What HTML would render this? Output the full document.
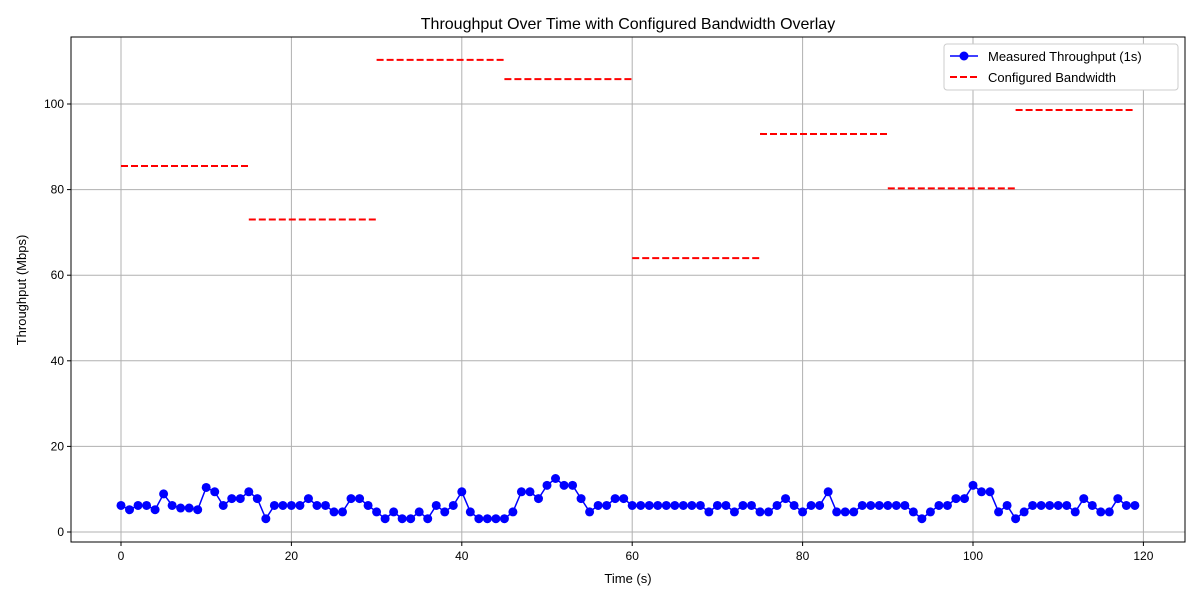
<!DOCTYPE html>
<html><head><meta charset="utf-8"><style>
body{margin:0;background:#fff;font-family:"Liberation Sans","DejaVu Sans",sans-serif;}
</style></head><body>
<svg id="chart" width="1200" height="600" xmlns="http://www.w3.org/2000/svg">
<rect width="1200" height="600" fill="#fff"/>
<g id="grid"></g><g id="bw"></g><g id="series"></g><g id="axes"></g>
</svg>
<script>
const throughput=[6.2,5.2,6.2,6.2,5.2,8.9,6.2,5.6,5.6,5.2,10.4,9.4,6.2,7.8,7.8,9.4,7.8,3.1,6.2,6.2,6.2,6.2,7.8,6.2,6.2,4.7,4.7,7.8,7.8,6.2,4.7,3.1,4.7,3.1,3.1,4.7,3.1,6.2,4.7,6.2,9.4,4.7,3.1,3.1,3.1,3.1,4.7,9.4,9.4,7.8,10.9,12.5,10.9,10.9,7.8,4.7,6.2,6.2,7.8,7.8,6.2,6.2,6.2,6.2,6.2,6.2,6.2,6.2,6.2,4.7,6.2,6.2,4.7,6.2,6.2,4.7,4.7,6.2,7.8,6.2,4.7,6.2,6.2,9.4,4.7,4.7,4.7,6.2,6.2,6.2,6.2,6.2,6.2,4.7,3.1,4.7,6.2,6.2,7.8,7.8,10.9,9.4,9.4,4.7,6.2,3.1,4.7,6.2,6.2,6.2,6.2,6.2,4.7,7.8,6.2,4.7,4.7,7.8,6.2,6.2];
const bwStart=[0,15,30,45,60,75,90,105];
const bwEnd=[15,30,45,60,75,90,105,119];
const bwValue=[85.5,73,110.3,105.8,64,93,80.3,98.6];
const xTicks=[0,20,40,60,80,100,120];
const yTicks=[0,20,40,60,80,100];
const L=71,R=1185,T=37,B=542;
const xs=v=>121+v*8.52;
const ys=v=>532-v*4.28;
const NS="http://www.w3.org/2000/svg";
function mk(p,t,a){const e=document.createElementNS(NS,t);for(const k in a)e.setAttribute(k,a[k]);p.appendChild(e);return e;}
const grid=document.getElementById('grid'),axes=document.getElementById('axes'),bw=document.getElementById('bw'),ser=document.getElementById('series');
xTicks.forEach(v=>{const x=xs(v);
 const g=mk(grid,'line',{x1:x,x2:x,y1:T,y2:B,stroke:'#b0b0b0','stroke-width':1});
 
 
 mk(axes,'line',{x1:x,x2:x,y1:B,y2:B+4,stroke:'#000'});
 const t=mk(axes,'text',{x:x,y:B+18,'text-anchor':'middle','font-size':12});t.textContent=v;
 
 });
yTicks.forEach(v=>{const y=ys(v);
 const g=mk(grid,'line',{x1:L,x2:R,y1:y,y2:y,stroke:'#b0b0b0','stroke-width':1});
 
 
 mk(axes,'line',{x1:L-4,x2:L,y1:y,y2:y,stroke:'#000'});
 const t=mk(axes,'text',{x:L-7,y:y+4,'text-anchor':'end','font-size':12});t.textContent=v;
 
 });
bwValue.forEach((v,i)=>{const l=mk(bw,'line',{x1:xs(bwStart[i]),x2:xs(bwEnd[i]),y1:ys(v),y2:ys(v),stroke:'#ff0000','stroke-width':2,'stroke-dasharray':'7,3'});
 
 });
const pl=mk(ser,'polyline',{points:throughput.map((v,i)=>xs(i)+','+ys(v)).join(' '),fill:'none',stroke:'#0000ff','stroke-width':1.5});


throughput.forEach((v,i)=>{const c=mk(ser,'circle',{cx:xs(i),cy:ys(v),r:4.5,fill:'#0000ff'});
 
 });
const fr=mk(axes,'rect',{x:L,y:T,width:R-L,height:B-T,fill:'none',stroke:'#000','stroke-width':1});


function txt(x,y,s,size,name,extra){const t=mk(axes,'text',Object.assign({x:x,y:y,'font-size':size},extra||{}));t.textContent=s;
 
 return t;}
txt(628,29,'Throughput Over Time with Configured Bandwidth Overlay',16,'chart-title',{'text-anchor':'middle'});
txt(628,583,'Time (s)',13,'x-axis-title',{'text-anchor':'middle'});
txt(26,290,'Throughput (Mbps)',13,'y-axis-title',{'text-anchor':'middle',transform:'rotate(-90 26 290)'});
const lg=mk(axes,'rect',{x:944,y:44,width:234,height:46,rx:3,fill:'#fff',stroke:'#ccc'});


mk(axes,'line',{x1:950,x2:978,y1:56,y2:56,stroke:'#0000ff','stroke-width':1.5});
mk(axes,'circle',{cx:964,cy:56,r:4.5,fill:'#0000ff'});
txt(988,61,'Measured Throughput (1s)',13,'legend-entry-throughput');
mk(axes,'line',{x1:950,x2:978,y1:77,y2:77,stroke:'#ff0000','stroke-width':2,'stroke-dasharray':'7,3'});
txt(988,82,'Configured Bandwidth',13,'legend-entry-bandwidth');
</script>
</body></html>
